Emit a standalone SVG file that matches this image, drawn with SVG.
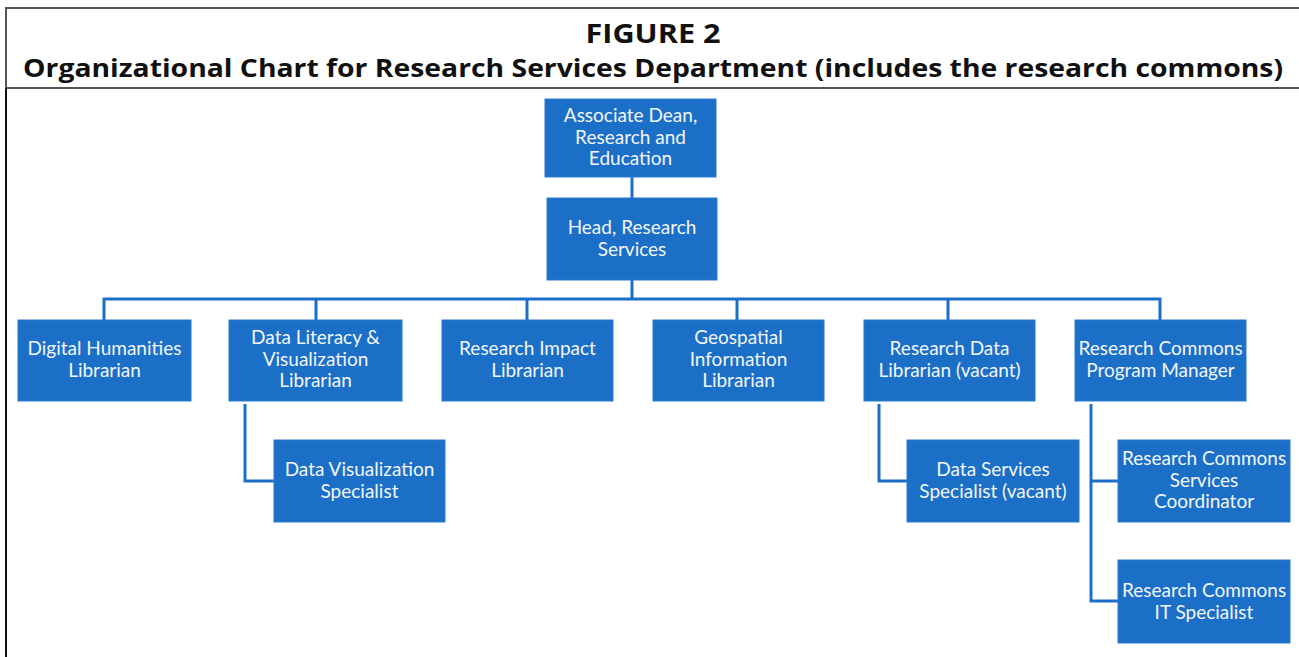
<svg xmlns="http://www.w3.org/2000/svg" width="1299" height="657" viewBox="0 0 1299 657">
  <style>
    .frame { stroke: #555; stroke-width: 2; fill: none; }
    .title { font-family: "Open Sans", "Liberation Sans", sans-serif; font-weight: 700; fill: #111; text-anchor: middle; }
    .box { fill: #1c6fc6; stroke: #2a7bd0; stroke-width: 1; }
    .label { font-family: Lato, "Liberation Sans", sans-serif; font-size: 19px; fill: #f2f6fb; text-anchor: middle; }
    .link { stroke: #1c6fc6; stroke-width: 3; fill: none; }
  </style>

  <!-- page frame and header -->
  <rect x="0" y="0" width="1299" height="657" fill="#fff"/>
  <line class="frame" x1="6" y1="8" x2="1299" y2="8"/>
  <line class="frame" x1="6" y1="88" x2="1299" y2="88"/>
  <line class="frame" x1="6" y1="7" x2="6" y2="88"/>
  <line x1="6" y1="88" x2="6" y2="657" stroke="#111" stroke-width="2"/>
  <text class="title" x="653" y="43" font-size="27" textLength="135" lengthAdjust="spacingAndGlyphs">FIGURE 2</text>
  <text class="title" x="653" y="77" font-size="25" textLength="1260" lengthAdjust="spacingAndGlyphs">Organizational Chart for Research Services Department (includes the research commons)</text>

  <!-- connectors -->
  <g id="connectors">
    <line class="link" x1="632" y1="177" x2="632" y2="198"/>
    <line class="link" x1="632" y1="280" x2="632" y2="299"/>
    <polyline class="link" points="104,320 104,299 1160,299 1160,320"/>
    <line class="link" x1="316" y1="299" x2="316" y2="320"/>
    <line class="link" x1="527" y1="299" x2="527" y2="320"/>
    <line class="link" x1="737" y1="299" x2="737" y2="320"/>
    <line class="link" x1="948" y1="299" x2="948" y2="320"/>
    <polyline class="link" points="245,404 245,481 274,481"/>
    <polyline class="link" points="879,404 879,481 907,481"/>
    <polyline class="link" points="1091,404 1091,601 1118,601"/>
    <line class="link" x1="1091" y1="481" x2="1118" y2="481"/>
  </g>

  <g id="associate-dean">
    <rect class="box" x="545" y="99" width="171" height="78"/>
    <text class="label" x="630.5" y="122">Associate Dean,</text>
    <text class="label" x="630.5" y="143.5">Research and</text>
    <text class="label" x="630.5" y="165">Education</text>
  </g>

  <g id="head-research-services">
    <rect class="box" x="547" y="198" width="170" height="82"/>
    <text class="label" x="632" y="234">Head, Research</text>
    <text class="label" x="632" y="255.5">Services</text>
  </g>

  <g id="digital-humanities">
    <rect class="box" x="18" y="320" width="173" height="81"/>
    <text class="label" x="104.5" y="355">Digital Humanities</text>
    <text class="label" x="104.5" y="376.5">Librarian</text>
  </g>

  <g id="data-literacy">
    <rect class="box" x="229" y="320" width="173" height="81"/>
    <text class="label" x="315.5" y="344">Data Literacy &amp;</text>
    <text class="label" x="315.5" y="365.5">Visualization</text>
    <text class="label" x="315.5" y="387">Librarian</text>
  </g>

  <g id="research-impact">
    <rect class="box" x="442" y="320" width="171" height="81"/>
    <text class="label" x="527.5" y="355">Research Impact</text>
    <text class="label" x="527.5" y="376.5">Librarian</text>
  </g>

  <g id="geospatial">
    <rect class="box" x="653" y="320" width="171" height="81"/>
    <text class="label" x="738.5" y="344">Geospatial</text>
    <text class="label" x="738.5" y="365.5">Information</text>
    <text class="label" x="738.5" y="387">Librarian</text>
  </g>

  <g id="research-data">
    <rect class="box" x="864" y="320" width="171" height="81"/>
    <text class="label" x="949.5" y="355">Research Data</text>
    <text class="label" x="949.5" y="376.5">Librarian (vacant)</text>
  </g>

  <g id="commons-program-manager">
    <rect class="box" x="1075" y="320" width="171" height="81"/>
    <text class="label" x="1160.5" y="355">Research Commons</text>
    <text class="label" x="1160.5" y="376.5">Program Manager</text>
  </g>

  <g id="data-visualization-specialist">
    <rect class="box" x="274" y="440" width="171" height="82"/>
    <text class="label" x="359.5" y="476">Data Visualization</text>
    <text class="label" x="359.5" y="497.5">Specialist</text>
  </g>

  <g id="data-services-specialist">
    <rect class="box" x="907" y="440" width="172" height="82"/>
    <text class="label" x="993" y="476">Data Services</text>
    <text class="label" x="993" y="497.5">Specialist (vacant)</text>
  </g>

  <g id="commons-services-coordinator">
    <rect class="box" x="1118" y="440" width="172" height="82"/>
    <text class="label" x="1204" y="465">Research Commons</text>
    <text class="label" x="1204" y="486.5">Services</text>
    <text class="label" x="1204" y="508">Coordinator</text>
  </g>

  <g id="commons-it-specialist">
    <rect class="box" x="1118" y="560" width="172" height="83"/>
    <text class="label" x="1204" y="597">Research Commons</text>
    <text class="label" x="1204" y="618.5">IT Specialist</text>
  </g>
</svg>
